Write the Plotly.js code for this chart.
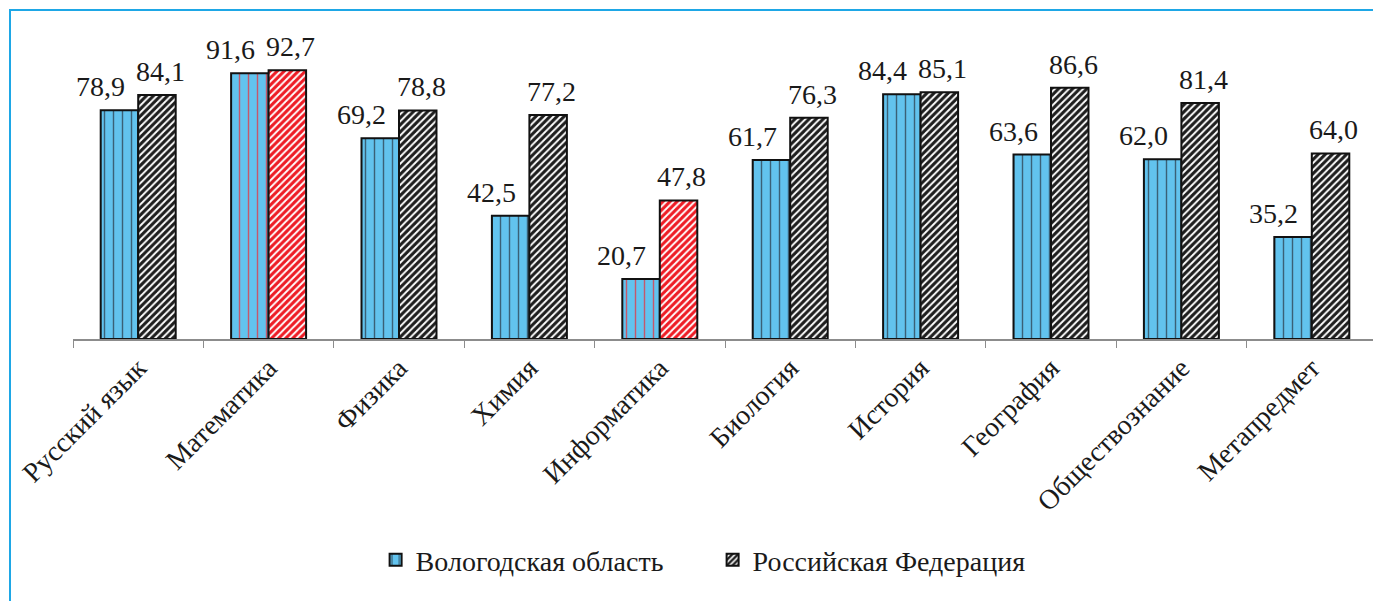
<!DOCTYPE html>
<html>
<head>
<meta charset="utf-8">
<script src="https://cdn.plot.ly/plotly-3.0.1.min.js"></script>
<style>
  html, body { margin: 0; padding: 0; width: 1373px; height: 601px; overflow: hidden; background: #ffffff; }
  #frame { position: absolute; left: 9px; top: 9px; width: 2000px; height: 1000px;
           border-left: 2px solid #1ea7e6; border-top: 2px solid #1ea7e6; z-index: 0; }
  #chart { position: absolute; left: 0; top: 0; width: 1380px; height: 601px; z-index: 1; }
</style>
</head>
<body>
<div id="frame"></div>
<div id="chart"></div>
<script>
const categories = ['Русский язык', 'Математика', 'Физика', 'Химия', 'Информатика',
                    'Биология', 'История', 'География', 'Обществознание', 'Метапредмет'];
const vologda = [78.9, 91.6, 69.2, 42.5, 20.7, 61.7, 84.4, 63.6, 62.0, 35.2];
const russia  = [84.1, 92.7, 78.8, 77.2, 47.8, 76.3, 85.1, 86.6, 81.4, 64.0];
const highlighted = ['Математика', 'Информатика'];
const seriesNames = ['Вологодская область', 'Российская Федерация'];

const SERIF = 'Times New Roman, Liberation Serif, serif';
const isHi = categories.map(c => highlighted.includes(c));
const fmt = v => v.toFixed(1).replace('.', ',');

const traceV = {
  type: 'bar', name: seriesNames[0], x: categories, y: vologda,
  hoverinfo: 'none',
  marker: {
    color: '#62c3ee',
    line: { color: '#111111', width: 2 },
    pattern: {
      shape: '|', size: 9, solidity: 0.16, fillmode: 'replace',
      bgcolor: '#62c3ee',
      fgcolor: isHi.map(h => h ? '#e5343f' : '#2b3f4e'),
      fgopacity: 0.75
    }
  }
};
const traceR = {
  type: 'bar', name: seriesNames[1], x: categories, y: russia,
  hoverinfo: 'none',
  marker: {
    color: '#ffffff',
    line: { color: '#111111', width: 2 },
    pattern: {
      shape: '/', size: 5, solidity: 0.62, fillmode: 'replace',
      bgcolor: '#ffffff',
      fgcolor: isHi.map(h => h ? '#ee1c25' : '#1e1e1e')
    }
  }
};

const annotations = [];
categories.forEach((c, i) => {
  annotations.push({ x: c, y: vologda[i], xref: 'x', yref: 'y', text: fmt(vologda[i]),
    showarrow: false, xanchor: 'center', yanchor: 'bottom', xshift: -38, yshift: 6,
    font: { family: SERIF, size: 28, color: '#1a1a1a' } });
  annotations.push({ x: c, y: russia[i], xref: 'x', yref: 'y', text: fmt(russia[i]),
    showarrow: false, xanchor: 'center', yanchor: 'bottom', xshift: 22, yshift: 6,
    font: { family: SERIF, size: 28, color: '#1a1a1a' } });
});

const layout = {
  width: 1380, height: 601,
  margin: { l: 73, r: 3, t: 49, b: 262 },
  paper_bgcolor: 'rgba(0,0,0,0)',
  plot_bgcolor: 'rgba(0,0,0,0)',
  font: { family: SERIF, color: '#1a1a1a' },
  barmode: 'group', bargap: 0.425, bargroupgap: 0,
  showlegend: true,
  legend: {
    orientation: 'h', x: 0.4905, xanchor: 'center', y: -0.762, yanchor: 'middle',
    font: { family: SERIF, size: 28, color: '#1a1a1a' },
    bgcolor: 'rgba(0,0,0,0)', entrywidth: 292, entrywidthmode: 'pixels'
  },
  xaxis: {
    type: 'category', tickangle: -45, tickson: 'boundaries',
    ticks: 'outside', ticklen: 7, tickcolor: '#8c8c8c', tickwidth: 1,
    showline: true, linecolor: '#8c8c8c', linewidth: 1.5,
    showgrid: false, zeroline: false,
    tickfont: { family: SERIF, size: 28, color: '#1a1a1a' }
  },
  yaxis: {
    range: [0, 100], showgrid: false, zeroline: false, showline: false,
    showticklabels: false, ticks: ''
  },
  annotations: annotations
};

Plotly.newPlot('chart', [traceV, traceR], layout, { displayModeBar: false, staticPlot: true });
</script>
</body>
</html>
